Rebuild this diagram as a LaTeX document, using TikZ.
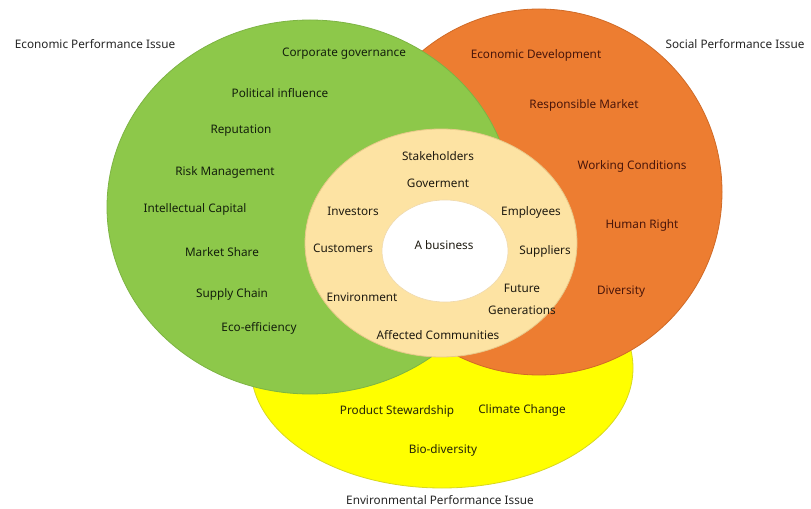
\documentclass[tikz,border=0pt]{standalone}
\usepackage{fontspec}
\setmainfont{Noto Sans}
\definecolor{greenc}{HTML}{8DC84A}
\definecolor{greenb}{HTML}{7DB443}
\definecolor{orangec}{HTML}{ED7D31}
\definecolor{orangeb}{HTML}{D06A26}
\definecolor{yellowc}{HTML}{FFFF00}
\definecolor{yellowb}{HTML}{D8D820}
\definecolor{beigec}{HTML}{FDE3A3}
\definecolor{beigeb}{HTML}{E8C98A}
\definecolor{gtext}{HTML}{14200C}
\definecolor{otext}{HTML}{4A160A}
\definecolor{btext}{HTML}{1E1A10}
\definecolor{ytext}{HTML}{262608}
\definecolor{ltext}{HTML}{262626}
\tikzset{
  lbl/.style={font=\fontsize{11.8}{14}\selectfont, inner sep=1pt},
  gl/.style={lbl, text=gtext},
  ol/.style={lbl, text=otext},
  bl/.style={lbl, text=btext},
  yl/.style={lbl, text=ytext},
  outl/.style={lbl, text=ltext},
}
\begin{document}
\begin{tikzpicture}[x=1bp,y=-1bp]
\useasboundingbox (0,0) rectangle (811,509);
\fill[white] (0,0) rectangle (811,509);
% circles
\fill[yellowc, draw=yellowb, line width=0.8bp] (442,368) ellipse [x radius=191, y radius=120];
\fill[orangec, draw=orangeb, line width=0.8bp] (539,192) circle [radius=183];
\fill[greenc, draw=greenb, line width=0.8bp] (310,207) ellipse [x radius=203, y radius=187];
\fill[beigec, draw=beigeb, line width=0.8bp] (441,243) ellipse [x radius=136, y radius=114];
\fill[white, draw=beigeb!70, line width=0.6bp] (445,251) ellipse [x radius=63, y radius=51];
% outer labels
\node[outl] (eco) at (95,44) {Economic Performance Issue};
\node[outl] (soc) at (735,44) {Social Performance Issue};
\node[outl] (env) at (440,500) {Environmental Performance Issue};
% economic
\node[gl] (cg) at (344,54) {Corporate governance};
\node[gl] (pi) at (280,93) {Political influence};
\node[gl] (rep) at (241,131) {Reputation};
\node[gl] (rm) at (225,172) {Risk Management};
\node[gl] (ic) at (195,209) {Intellectual Capital};
\node[gl] (ms) at (222,252) {Market Share};
\node[gl] (sc) at (232,294) {Supply Chain};
\node[gl] (ee) at (259,328) {Eco-efficiency};
% social
\node[ol] (ed) at (536,55) {Economic Development};
\node[ol] (rmk) at (584,105) {Responsible Market};
\node[ol] (wc) at (632,166) {Working Conditions};
\node[ol] (hr) at (642,225) {Human Right};
\node[ol] (div) at (621,292) {Diversity};
% stakeholders
\node[bl] (stk) at (438,156) {Stakeholders};
\node[bl] (gov) at (438,183) {Goverment};
\node[bl] (inv) at (353,211) {Investors};
\node[bl] (emp) at (531,212) {Employees};
\node[bl] (cus) at (343,248) {Customers};
\node[bl] (biz) at (444,245) {A business};
\node[bl] (sup) at (545,251) {Suppliers};
\node[bl] (envi) at (362,297) {Environment};
\node[bl] (fut) at (522,288) {Future};
\node[bl] (gen) at (522,310) {Generations};
\node[bl] (ac) at (438,335) {Affected Communities};
% environmental
\node[yl] (ps) at (397,411) {Product Stewardship};
\node[yl] (cc) at (522,410) {Climate Change};
\node[yl] (bd) at (443,450) {Bio-diversity};
\end{tikzpicture}
\end{document}
